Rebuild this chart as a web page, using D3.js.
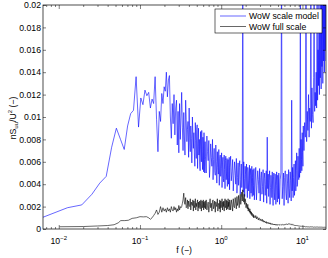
<!DOCTYPE html>
<html>
<head>
<meta charset="utf-8">
<script src="https://cdn.jsdelivr.net/npm/d3@7"></script>
<style>
  body { margin: 0; background: #fff; }
  svg { display: block; }
  text { font-family: "Liberation Sans", Arial, Helvetica, sans-serif; fill: #000; }
</style>
</head>
<body>
<div id="chart"></div>
<script>
// spectra of the WoW scale model and full scale, values in units of 1e-3
// low frequency part, own bins per series
var blueLowF = [0.0064,0.0128,0.0192,0.0256,0.032,0.0384,0.0448,0.0512,0.0576,0.064,0.0704,0.0768,0.0832,0.0896,0.096,0.1024,0.1088,0.1152,0.1216,0.128,0.1344,0.1408,0.1472,0.1536,0.16,0.1664,0.1728,0.1792,0.1856,0.192,0.1984,0.2048,0.2112,0.2176,0.224,0.2304,0.2368,0.2432,0.2496,0.256,0.2624,0.2688,0.2752,0.2816,0.288,0.2944,0.3008,0.3072,0.3136,0.32];
var blueLowV = [1.05,1.9,2.15,3.1,4.1,4.7,7.3,9.0,8.0,7.1,9.2,10.3,10.6,13.6,9.1,11.7,11.1,12.4,11.9,12.2,10.8,11.6,11.2,13.6,9.8,6.9,10.5,9.6,12.1,11.2,12.7,12.3,14.0,11.8,13.3,13.7,10.0,8.1,11.2,9.4,12.0,8.4,10.8,11.5,7.5,10.5,6.8,11.2,8.0,10.0];
var blackLowF = [0.0102,0.02,0.03,0.04,0.048,0.054,0.058,0.065,0.072,0.08,0.09,0.1,0.11,0.12,
  0.128,0.1344,0.1408,0.1472,0.1536,0.16,0.1664,0.1728,0.1792,0.1856,0.192,0.1984,0.2048,0.2112,0.2176,0.224,0.2304,0.2368,0.2432,0.2496,0.256,0.2624,0.2688,0.2752,0.2816,0.288,0.2944,0.3008,0.3072,0.3136,0.32];
var blackLowV = [0.2,0.22,0.27,0.31,0.38,0.55,0.75,0.75,0.78,0.95,1.0,1.1,1.08,1.1,
  1.0,0.87,1.0,1.2,1.4,1.7,1.3,1.5,2.0,1.5,1.9,1.6,1.8,1.5,1.9,1.6,1.8,1.5,2.0,1.7,1.6,2.0,1.7,1.9,1.5,1.8,1.6,2.1,1.7,2.0,1.9];

// shared frequency bins above 0.32 (thinned out per octave)
var gridF = [
  0.326,0.333,0.339,0.346,0.352,0.358,0.365,0.371,0.378,0.384,0.390,0.397,0.403,0.410,0.416,0.422,0.429,0.435,0.442,0.448,
  0.454,0.461,0.467,0.474,0.480,0.486,0.493,0.499,0.506,0.512,0.518,0.525,0.531,0.538,0.544,0.550,0.557,0.563,0.570,0.576,
  0.582,0.589,0.595,0.602,0.608,0.614,0.621,0.627,0.634,0.640,
  0.653,0.666,0.678,0.691,0.704,0.717,0.730,0.742,0.755,0.768,0.781,0.794,0.806,0.819,0.832,0.845,0.858,0.870,0.883,0.896,
  0.909,0.922,0.934,0.947,0.960,0.973,0.986,0.998,1.011,1.024,1.037,1.050,1.062,1.075,1.088,1.101,1.114,1.126,1.139,1.152,
  1.165,1.178,1.190,1.203,1.216,1.229,1.242,1.254,1.267,1.280,
  1.306,1.331,1.357,1.382,1.408,1.434,1.459,1.485,1.510,1.536,1.562,1.587,1.613,1.638,1.664,1.690,1.715,1.741,1.766,1.792,
  1.818,1.843,1.869,1.894,1.920,1.946,1.971,1.997,2.022,2.048,2.074,2.099,2.125,2.150,2.176,2.202,2.227,2.253,2.278,2.304,
  2.330,2.355,2.381,2.406,2.432,2.458,2.483,2.509,2.534,2.560,
  2.611,2.662,2.714,2.765,2.816,2.867,2.918,2.970,3.021,3.072,3.123,3.174,3.226,3.277,3.328,3.379,3.430,3.482,3.533,3.584,
  3.635,3.686,3.738,3.789,3.840,3.891,3.942,3.994,4.045,4.096,4.147,4.198,4.250,4.301,4.352,4.403,4.454,4.506,4.557,4.608,
  4.659,4.710,4.762,4.813,4.864,4.915,4.966,5.018,5.069,5.120,
  5.222,5.325,5.427,5.530,5.632,5.734,5.837,5.939,6.042,6.144,6.246,6.349,6.451,6.554,6.656,6.758,6.861,6.963,7.066,7.168,
  7.270,7.373,7.475,7.578,7.680,7.782,7.885,7.987,8.090,8.192,8.294,8.397,8.499,8.602,8.704,8.806,8.909,9.011,9.114,9.216,
  9.318,9.421,9.523,9.626,9.728,9.830,9.933,10.035,10.138,10.240,
  10.445,10.650,10.854,11.059,11.264,11.469,11.674,11.878,12.083,12.288,12.493,12.698,12.902,13.107,13.312,13.517,13.722,13.926,14.131,14.336,
  14.541,14.746,14.950,15.155,15.360,15.565,15.770,15.974,16.179,16.384,16.589,16.794,16.998,17.203,17.408,17.613,17.818,18.022,18.227,18.432,
  18.637,18.842,19.046,19.251,19.456];

var blueGridV = [
  12.2,9.1,7.0,10.4,8.3,6.6,11.5,9.8,7.8,8.9,9.6,6.4,10.8,7.7,6.9,9.2,8.1,5.9,10.0,8.4,
  7.2,8.6,6.8,5.6,9.5,7.9,6.3,8.9,9.3,5.4,7.6,9.0,6.6,8.0,5.8,5.2,8.7,7.1,6.0,8.8,
  6.9,5.3,8.2,7.4,5.1,8.6,6.2,5.0,7.8,6.5,
  5.0,8.3,6.9,6.1,7.9,4.6,5.8,7.6,6.4,5.6,8.0,4.4,6.2,7.2,5.2,4.8,7.5,6.0,4.1,6.9,
  5.5,4.9,7.1,3.9,6.3,6.6,4.7,5.4,6.8,3.7,5.9,6.4,4.5,4.2,6.6,5.3,3.6,6.1,6.5,4.4,
  5.0,6.3,3.8,5.7,6.2,4.0,4.6,6.4,3.5,5.5,
  6.5,4.3,5.1,6.2,3.4,4.8,6.0,5.2,4.0,6.3,3.2,4.6,5.9,3.9,5.5,6.1,3.1,4.4,5.8,3.7,
  5.0,25,3.3,6.0,4.5,2.9,5.6,4.9,3.6,5.8,4.2,2.8,5.5,5.1,3.4,4.3,5.7,2.7,4.8,5.4,
  3.2,4.1,5.6,2.9,4.6,5.3,3.0,3.9,5.4,2.6,
  4.2,5.5,2.6,3.9,5.2,4.4,3.2,5.4,2.5,4.6,5.1,3.1,3.8,5.3,2.4,4.5,5.0,3.0,4.0,5.2,
  2.3,8.2,3.6,4.9,2.9,4.3,5.2,2.2,3.7,4.8,4.1,2.8,5.1,3.5,2.1,4.7,5.0,3.3,2.6,4.9,
  4.2,2.2,3.9,5.1,3.0,2.4,4.8,4.4,2.7,5.0,
  2.2,4.4,5.0,25,2.7,3.8,5.0,2.1,4.6,5.2,3.2,2.6,4.9,4.1,2.3,5.3,3.6,2.8,5.1,4.3,
  2.5,11.5,3.4,5.5,2.8,4.6,5.8,3.0,4.2,6.1,3.4,5.2,6.8,3.8,4.0,6.5,5.0,4.4,7.2,4.6,
  5.8,24,5.0,8.0,6.2,5.2,8.6,6.8,5.6,9.2,
  7.0,9.5,8.2,25,7.8,10.5,8.8,12.0,8.2,10.8,9.6,24,9.0,12.6,10.2,9.5,13.5,25,10.5,12.2,
  11.0,14.0,10.8,25,11.5,16.0,12.8,25,12.0,18.5,13.5,25,12.5,20.0,14.5,25,13.0,22.0,15.0,25,
  14.0,25,16.0,25,15.0];

var blackGridV = [
  2.0,2.3,2.6,3.2,2.4,2.2,2.8,1.9,2.0,2.6,1.8,2.5,2.1,2.0,2.7,1.7,2.4,2.2,2.1,2.6,
  1.6,2.5,1.9,2.2,2.7,1.7,2.3,2.0,2.4,2.6,1.6,2.4,1.9,2.1,2.5,1.8,2.3,2.6,1.6,2.2,
  2.5,1.9,2.0,2.6,1.7,2.4,2.1,1.9,2.5,1.8,
  2.6,1.7,2.1,2.4,1.5,2.2,2.7,1.9,2.3,1.6,2.5,2.6,1.8,2.0,2.5,1.5,2.4,2.2,2.0,2.7,
  1.6,2.1,2.3,1.8,2.6,1.5,2.5,1.9,2.2,2.7,1.7,2.4,2.0,2.5,1.6,2.3,2.7,1.9,2.1,2.6,
  1.7,2.5,2.2,1.8,2.7,2.0,2.4,1.7,2.6,2.5,
  1.7,2.6,2.2,1.6,2.7,2.0,1.9,2.8,2.3,1.8,2.9,2.1,2.4,3.0,1.9,2.7,3.1,2.2,2.8,3.3,
  2.5,3.5,2.9,2.4,3.1,2.2,2.7,2.5,1.9,2.3,2.0,1.8,2.2,1.6,1.9,1.7,1.5,1.8,1.4,1.6,
  1.3,1.5,1.2,1.4,1.3,1.1,1.3,1.0,1.2,1.1,
  1.0,1.2,0.9,1.1,0.95,0.8,1.0,0.85,0.75,0.9,0.8,0.7,0.85,0.65,0.75,0.6,0.7,0.62,0.55,0.66,
  0.5,0.6,0.55,0.48,0.58,0.5,0.45,0.55,0.42,0.5,0.46,0.4,0.48,0.42,0.38,0.45,0.4,0.36,0.44,0.38,
  0.35,0.42,0.37,0.34,0.4,0.36,0.33,0.39,0.35,0.38,
  0.36,0.4,0.34,0.38,0.35,0.42,0.37,0.4,0.36,0.44,0.39,0.42,0.46,0.4,0.47,0.43,0.48,0.42,0.46,0.4,
  0.44,0.38,0.42,0.36,0.4,0.34,0.37,0.32,0.35,0.3,0.33,0.29,0.32,0.28,0.3,0.27,0.29,0.26,0.28,0.25,
  0.27,0.24,0.26,0.23,0.25,0.22,0.24,0.22,0.23,0.21,
  0.2,0.23,0.19,0.22,0.2,0.18,0.21,0.19,0.2,0.17,0.2,0.18,0.19,0.17,0.19,0.18,0.16,0.19,0.17,0.18,
  0.16,0.18,0.17,0.16,0.18,0.17,0.16,0.17,0.16,0.18,0.16,0.17,0.15,0.17,0.16,0.15,0.17,0.16,0.15,0.16,
  0.16,0.15,0.16,0.15,0.16];

var seriesNames = ["WoW scale model", "WoW full scale"];
var seriesColors = ["#0000ff", "#000000"];
var yTicks = [0, 0.002, 0.004, 0.006, 0.008, 0.01, 0.012, 0.014, 0.016, 0.018, 0.02];
var xTicks = [0.01, 0.1, 1, 10];
var xTickExp = ["-2", "-1", "0", "1"];

// svg container
var svgWidth = 328;
var svgHeight = 258;
var margin = { top: 5, right: 2, bottom: 29, left: 43 };
var chartWidth = svgWidth - margin.left - margin.right;
var chartHeight = svgHeight - margin.top - margin.bottom;

var svg = d3.select("#chart").append("svg")
  .attr("width", svgWidth)
  .attr("height", svgHeight);

var chartGroup = svg.append("g")
  .attr("transform", `translate(${margin.left}, ${margin.top})`);

// scales
var xScale = d3.scaleLog()
  .domain([0.0064, 19.5])
  .range([0, chartWidth]);
var yScale = d3.scaleLinear()
  .domain([0, 0.02])
  .range([chartHeight, 0]);

// minor ticks for the log axis
var minorTicks = [];
[0.001, 0.01, 0.1, 1, 10].forEach((d) => {
  for (var k = 2; k <= 9; k++) {
    var v = d * k;
    if (v > 0.0064 && v < 19.5) minorTicks.push(v);
  }
});

svg.append("defs").append("clipPath").attr("id", "plotclip")
  .append("rect").attr("width", chartWidth).attr("height", chartHeight);

// series
var line = d3.line()
  .x(d => xScale(d[0]))
  .y(d => yScale(d[1] / 1000));

var blueData = blueLowF.map((f, i) => [f, blueLowV[i]])
  .concat(gridF.map((f, i) => [f, blueGridV[i]]));
var blackData = blackLowF.map((f, i) => [f, blackLowV[i]])
  .concat(gridF.map((f, i) => [f, blackGridV[i]]));

var plot = chartGroup.append("g").attr("clip-path", "url(#plotclip)");
plot.append("path")
  .datum(blueData)
  .attr("d", line)
  .attr("fill", "none")
  .attr("stroke", seriesColors[0])
  .attr("stroke-width", 0.6)
  .attr("stroke-linejoin", "round");
plot.append("path")
  .datum(blackData)
  .attr("d", line)
  .attr("fill", "none")
  .attr("stroke", seriesColors[1])
  .attr("stroke-width", 0.6)
  .attr("stroke-linejoin", "round");

// ticks pointing inwards on all four sides
function styleAxis(g) {
  g.select(".domain").remove();
  g.selectAll("line").attr("stroke", "#000").attr("stroke-width", 0.5);
}
chartGroup.append("g")
  .attr("transform", `translate(0, ${chartHeight})`)
  .call(d3.axisBottom(xScale).tickValues(xTicks).tickSize(-4).tickFormat(""))
  .call(styleAxis);
chartGroup.append("g")
  .attr("transform", `translate(0, ${chartHeight})`)
  .call(d3.axisBottom(xScale).tickValues(minorTicks).tickSize(-2).tickFormat(""))
  .call(styleAxis);
chartGroup.append("g")
  .call(d3.axisTop(xScale).tickValues(xTicks).tickSize(-4).tickFormat(""))
  .call(styleAxis);
chartGroup.append("g")
  .call(d3.axisTop(xScale).tickValues(minorTicks).tickSize(-2).tickFormat(""))
  .call(styleAxis);
chartGroup.append("g")
  .call(d3.axisLeft(yScale).tickValues(yTicks).tickSize(-3).tickPadding(2)
    .tickFormat(d => String(+d.toFixed(3))))
  .call(styleAxis)
  .selectAll("text")
  .style("font-size", "8.7px");
chartGroup.append("g")
  .attr("transform", `translate(${chartWidth}, 0)`)
  .call(d3.axisRight(yScale).tickValues(yTicks).tickSize(-3).tickFormat(""))
  .call(styleAxis);

// frame
chartGroup.append("rect")
  .attr("width", chartWidth)
  .attr("height", chartHeight)
  .attr("fill", "none")
  .attr("stroke", "#000")
  .attr("stroke-width", 0.7);

// x tick labels with exponents
xTicks.forEach((d, i) => {
  var t = chartGroup.append("text")
    .attr("x", xScale(d))
    .attr("y", chartHeight + 14.5)
    .attr("text-anchor", "middle")
    .style("font-size", "8.7px");
  t.append("tspan").text("10");
  t.append("tspan").attr("dy", -4).style("font-size", "6px").text(xTickExp[i].replace("-", "\u2212"));
});

// axis titles
svg.append("text")
  .attr("x", 184)
  .attr("y", 252.5)
  .attr("text-anchor", "middle")
  .style("font-size", "8.7px")
  .text("f (\u2212)");

var ylab = svg.append("text")
  .attr("transform", "translate(15.5, 118) rotate(-90)")
  .attr("text-anchor", "middle")
  .style("font-size", "8.7px");
ylab.append("tspan").text("nS");
ylab.append("tspan").attr("dy", 2.5).style("font-size", "6px").text("uu");
ylab.append("tspan").attr("dy", -2.5).text("/U");
ylab.append("tspan").attr("dy", -3.5).style("font-size", "6px").text("2");
ylab.append("tspan").attr("dy", 3.5).text(" (\u2212)");

// legend
var legend = svg.append("g").attr("transform", "translate(215, 9)");
legend.append("rect")
  .attr("width", 107)
  .attr("height", 24)
  .attr("fill", "#fff")
  .attr("stroke", "#000")
  .attr("stroke-width", 0.6);
seriesNames.forEach((name, i) => {
  legend.append("line")
    .attr("x1", 5).attr("x2", 31)
    .attr("y1", 7 + i * 10.5).attr("y2", 7 + i * 10.5)
    .attr("stroke", seriesColors[i])
    .attr("stroke-width", 0.6);
  legend.append("text")
    .attr("x", 34)
    .attr("y", 10 + i * 10.5)
    .style("font-size", "8.7px")
    .text(name);
});
</script>
</body>
</html>
